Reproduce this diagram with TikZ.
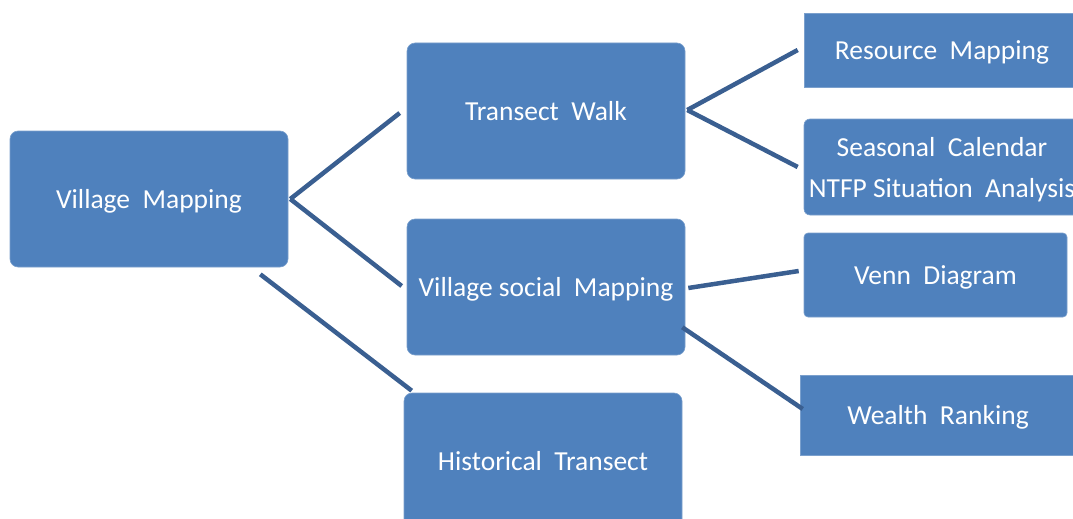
\documentclass[tikz,border=0pt]{standalone}
\usepackage{fontspec}
\setmainfont{Carlito}
\usepackage{xcolor}
\definecolor{BoxBlue}{RGB}{79,129,189}
\definecolor{LinkBlue}{RGB}{58,95,145}
\tikzset{
  topic/.style={draw=BoxBlue!75!white, line width=0.6pt, fill=BoxBlue,
    rounded corners=8pt, text=white, minimum width=278pt,
    minimum height=136pt, align=center, inner sep=0pt, text depth=0pt,
    font=\fontsize{27.5}{41}\selectfont},
  subtopic/.style={draw=BoxBlue!75!white, line width=0.6pt, fill=BoxBlue,
    text=white, minimum width=276pt, align=center, inner sep=0pt,
    text depth=0pt, font=\fontsize{27.5}{41}\selectfont},
  link/.style={LinkBlue, line width=4.5pt}
}

\begin{document}
\begin{tikzpicture}[x=1pt,y=-1pt]
  \useasboundingbox (0,0) rectangle (1073,519);
  \clip (0,0) rectangle (1073,519);

  % main column
  \node[topic] (village) at (149,199) {Village~ Mapping};
  \node[topic] (transect) at (546,111) {Transect~ Walk};
  \node[topic] (social) at (546,287) {Village social~ Mapping};
  \node[topic] (history) at (543,461) {Historical~ Transect};

  % tools on the right
  \node[subtopic, minimum height=74pt] (resource) at (942,50) {Resource~ Mapping};
  \node[subtopic, rounded corners=6pt, minimum height=96pt] (seasonal) at (942,167)
    {\makebox[0pt]{Seasonal~ Calendar}\\\makebox[0pt]{NTFP Situation~ Analysis}};
  \node[subtopic, rounded corners=4pt, minimum width=263pt, minimum height=84pt] (venn) at (935.5,275) {Venn~ Diagram};
  \node[subtopic, minimum height=80pt] (wealth) at (938,415) {Wealth~ Ranking};

  % links
  \draw[link] ([xshift=2pt]village.east) -- ([xshift=-7pt,yshift=-2pt]transect.west);
  \draw[link] ([xshift=2pt]village.east) -- ([xshift=-5pt,yshift=1pt]social.west);
  \draw[link] ([xshift=-28pt,yshift=-7pt]village.south east) -- ([xshift=8pt,yshift=2pt]history.north west);
  \draw[link] ([xshift=2pt,yshift=1pt]transect.east) -- ([xshift=-6pt]resource.west);
  \draw[link] ([xshift=2pt,yshift=1pt]transect.east) -- ([xshift=-6pt]seasonal.west);
  \draw[link] ([xshift=3pt,yshift=-1pt]social.east) -- ([xshift=-5pt,yshift=4pt]venn.west);
  \draw[link] ([xshift=-3pt,yshift=28pt]social.south east) -- ([xshift=3pt,yshift=6pt]wealth.west);
\end{tikzpicture}
\end{document}
